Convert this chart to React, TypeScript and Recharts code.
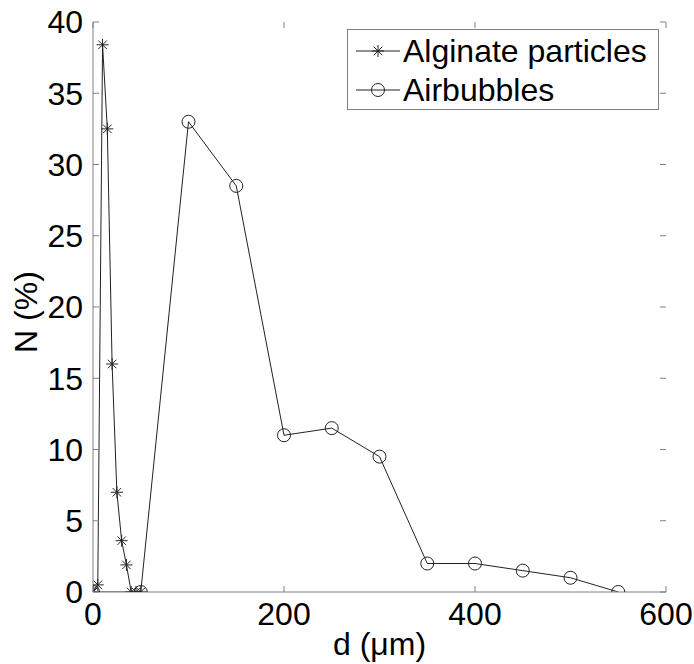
import { Label, Legend, Line, LineChart, XAxis, YAxis } from 'recharts';

const alginateD = [0, 5, 10, 15, 20, 25, 30, 35, 40, 45, 50];
const alginateN = [0, 0.5, 38.4, 32.5, 16, 7, 3.6, 1.9, 0, 0, 0];

const airD = [0, 50, 100, 150, 200, 250, 300, 350, 400, 450, 500, 550];
const airN = [0, 0, 33, 28.5, 11, 11.5, 9.5, 2, 2, 1.5, 1, 0];

const xTicks = [0, 200, 400, 600];
const yTicks = [0, 5, 10, 15, 20, 25, 30, 35, 40];

const alginateData = alginateD.map((d, i) => ({ d, n: alginateN[i] }));
const airData = airD.map((d, i) => ({ d, n: airN[i] }));

const FONT = 'Arial, "Liberation Sans", sans-serif';
const FS = 32;
const AXIS = '#808080';
const INK = '#222';

const W = 694;
const H = 664;
const M = { top: 22, right: 28, left: 0, bottom: 0 };
const Y_W = 93;
const X_H = 72;
const P_TOP = M.top;
const P_BOTTOM = H - X_H;
const P_LEFT = Y_W;
const P_RIGHT = W - M.right;
const TICK = 6;

// matlab style '*' marker
const Star = ({ cx, cy, r = 6 }: { cx: number; cy: number; r?: number }) => {
  const k = r * 0.707;
  return (
    <g stroke={INK} strokeWidth={1}>
      <line x1={cx - r} y1={cy} x2={cx + r} y2={cy} />
      <line x1={cx} y1={cy - r} x2={cx} y2={cy + r} />
      <line x1={cx - k} y1={cy - k} x2={cx + k} y2={cy + k} />
      <line x1={cx - k} y1={cy + k} x2={cx + k} y2={cy - k} />
    </g>
  );
};

const starDot = (p: any) => <Star key={`s${p.index}`} cx={p.cx} cy={p.cy} />;
const circleDot = (p: any) => (
  <circle key={`c${p.index}`} cx={p.cx} cy={p.cy} r={6.5} fill='none' stroke={INK} strokeWidth={1} />
);

// label + inward ticks on both bottom and top of the box
const XTick = (p: any) => (
  <g>
    <line x1={p.x} y1={P_BOTTOM} x2={p.x} y2={P_BOTTOM - TICK} stroke={AXIS} />
    <line x1={p.x} y1={P_TOP} x2={p.x} y2={P_TOP + TICK} stroke={AXIS} />
    <text x={p.x} y={p.y} dy='0.71em' textAnchor='middle' fontSize={FS} fontFamily={FONT} fill='#000'>
      {p.payload.value}
    </text>
  </g>
);

const YTick = (p: any) => (
  <g>
    <line x1={P_LEFT} y1={p.y} x2={P_LEFT + TICK} y2={p.y} stroke={AXIS} />
    <line x1={P_RIGHT} y1={p.y} x2={P_RIGHT - TICK} y2={p.y} stroke={AXIS} />
    <text x={p.x} y={p.y} dy='0.355em' textAnchor='end' fontSize={FS} fontFamily={FONT} fill='#000'>
      {p.payload.value}
    </text>
  </g>
);

const LegendBox = () => (
  <svg width={312} height={81} style={{ display: 'block' }}>
    <rect x={0.5} y={0.5} width={311} height={80} fill='#fff' stroke={AXIS} />
    <line x1={9} y1={22} x2={53} y2={22} stroke={INK} />
    <Star cx={31} cy={22} />
    <text x={56} y={33} fontSize={FS} fontFamily={FONT} fill='#000'>
      Alginate particles
    </text>
    <line x1={9} y1={61} x2={53} y2={61} stroke={INK} />
    <circle cx={31} cy={61} r={6.5} fill='none' stroke={INK} />
    <text x={56} y={72} fontSize={FS} fontFamily={FONT} fill='#000'>
      Airbubbles
    </text>
  </svg>
);

const xLabel = (props: any) => {
  const vb = props.viewBox;
  return (
    <text x={vb.x + vb.width / 2} y={655} textAnchor='middle' fontSize={FS} fontFamily={FONT} fill='#000'>
      d (μm)
    </text>
  );
};

const yLabel = () => {
  const cy = 312;
  return (
    <text
      x={37}
      y={cy}
      textAnchor='middle'
      fontSize={FS}
      fontFamily={FONT}
      fill='#000'
      transform={`rotate(-90 37 ${cy})`}
    >
      N (%)
    </text>
  );
};

export default function App() {
  return (
    <div style={{ position: 'absolute', left: 0, top: 0, background: '#fff' }}>
      <LineChart width={W} height={H} margin={M}>
        <XAxis
          xAxisId='x'
          dataKey='d'
          type='number'
          domain={[0, 600]}
          ticks={xTicks}
          allowDataOverflow
          height={X_H}
          tickLine={false}
          tickSize={6}
          tickMargin={4}
          axisLine={{ stroke: AXIS }}
          tick={XTick}
        >
          <Label content={xLabel} />
        </XAxis>
        <YAxis
          yAxisId='y'
          type='number'
          domain={[0, 40]}
          ticks={yTicks}
          allowDataOverflow
          width={Y_W}
          tickLine={false}
          tickSize={6}
          tickMargin={4}
          axisLine={{ stroke: AXIS }}
          tick={YTick}
        >
          <Label content={yLabel} />
        </YAxis>
        {/* top and right edges of the box */}
        <XAxis xAxisId='xt' type='number' domain={[0, 600]} ticks={xTicks} allowDataOverflow orientation='top' mirror height={0} tick={false} tickLine={false} axisLine={{ stroke: AXIS }} />
        <YAxis yAxisId='yr' type='number' domain={[0, 40]} ticks={yTicks} allowDataOverflow orientation='right' mirror width={0} tick={false} tickLine={false} axisLine={{ stroke: AXIS }} />
        <Legend
          layout='vertical'
          align='center'
          verticalAlign='middle'
          content={() => <LegendBox />}
          wrapperStyle={{ left: 347, top: 29, width: 312, height: 81 }}
        />
        <Line
          xAxisId='x'
          yAxisId='y'
          data={alginateData}
          dataKey='n'
          name='Alginate particles'
          stroke={INK}
          strokeWidth={1}
          dot={starDot}
          activeDot={false}
          isAnimationActive={false}
        />
        <Line
          xAxisId='x'
          yAxisId='y'
          data={airData}
          dataKey='n'
          name='Airbubbles'
          stroke={INK}
          strokeWidth={1}
          dot={circleDot}
          activeDot={false}
          isAnimationActive={false}
        />
      </LineChart>
    </div>
  );
}
